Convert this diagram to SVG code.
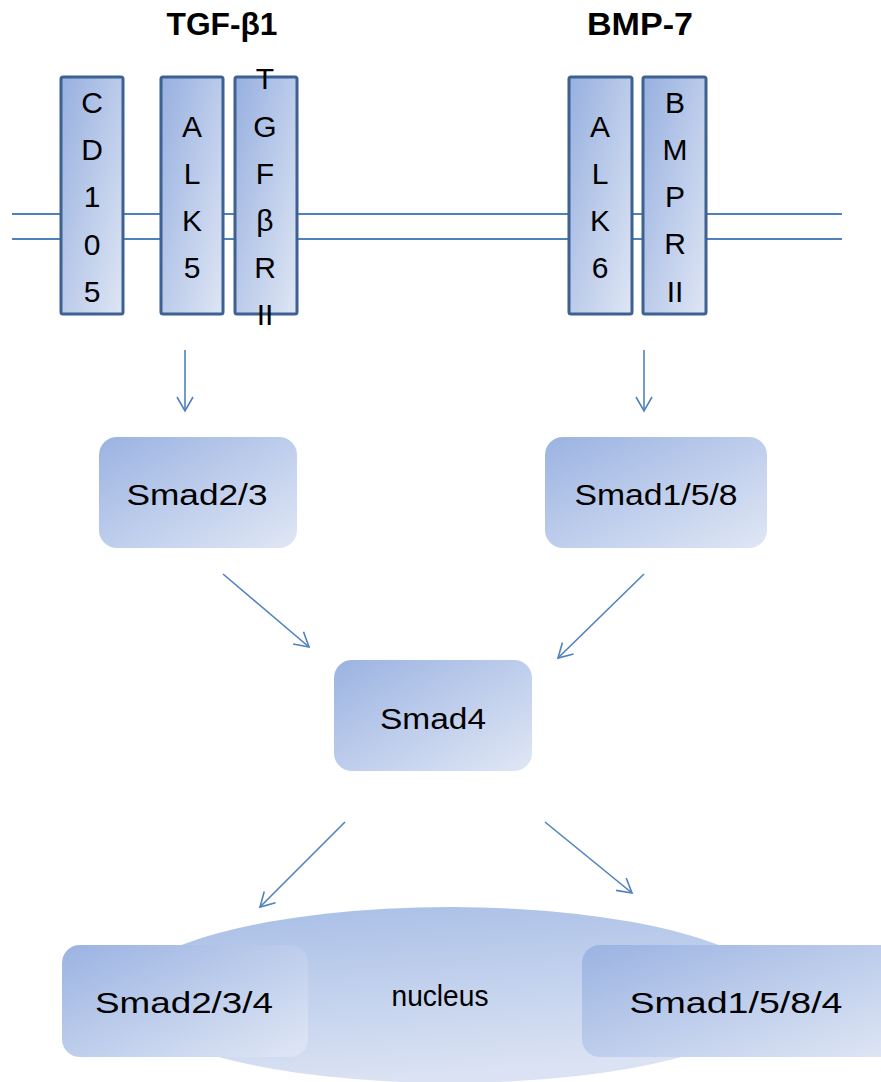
<svg xmlns="http://www.w3.org/2000/svg" width="881" height="1082" viewBox="0 0 881 1082">
<defs>
<linearGradient id="gBox" x1="0" y1="0" x2="1" y2="1">
<stop offset="0" stop-color="#9bb3e2"/>
<stop offset="1" stop-color="#e0e7f5"/>
</linearGradient>
<linearGradient id="gRec" x1="0" y1="0" x2="1" y2="1">
<stop offset="0" stop-color="#97b0e0"/>
<stop offset="1" stop-color="#dfe6f4"/>
</linearGradient>
<linearGradient id="gNuc" x1="0" y1="0" x2="0.3" y2="1">
<stop offset="0" stop-color="#a6bde6"/>
<stop offset="1" stop-color="#dae2f3"/>
</linearGradient>
<marker id="arr" viewBox="-16 -10 18 20" refX="0" refY="0" markerWidth="18" markerHeight="20" markerUnits="userSpaceOnUse" orient="auto">
<path d="M-14,-8 L0,0 L-14,8" fill="none" stroke="#4f81bd" stroke-width="1.6"/>
</marker>
</defs>
<style>
.rec{fill:url(#gRec);stroke:#3d6192;stroke-width:3}
.box{fill:url(#gBox)}
.lt{font-family:"Liberation Sans",Arial,sans-serif;font-size:30px;fill:#000;text-anchor:middle}
.ttl{font-family:"Liberation Sans",Arial,sans-serif;font-size:31px;font-weight:bold;fill:#000;text-anchor:middle}
.mem{stroke:#4f81bd;stroke-width:2;fill:none}
.con{stroke:#4f81bd;stroke-width:1.6;fill:none;marker-end:url(#arr)}
</style>
<rect width="881" height="1082" fill="#fff"/>
<g id="titles">
<text class="ttl" x="222" y="35" textLength="111" lengthAdjust="spacingAndGlyphs">TGF-β1</text>
<text class="ttl" x="640" y="35" textLength="106" lengthAdjust="spacingAndGlyphs">BMP-7</text>
</g>
<g id="membrane">
<line class="mem" x1="12" y1="214" x2="842" y2="214"/>
<line class="mem" x1="12" y1="239" x2="842" y2="239"/>
</g>
<g id="cd105">
<rect class="rec" x="61" y="77" width="62" height="237" rx="2"/>
<text class="lt" x="92" y="113">C</text>
<text class="lt" x="92" y="160">D</text>
<text class="lt" x="92" y="207">1</text>
<text class="lt" x="92" y="255">0</text>
<text class="lt" x="92" y="302">5</text>
</g>
<g id="alk5">
<rect class="rec" x="161" y="77" width="62" height="237" rx="2"/>
<text class="lt" x="192" y="137">A</text>
<text class="lt" x="192" y="184">L</text>
<text class="lt" x="192" y="231">K</text>
<text class="lt" x="192" y="278">5</text>
</g>
<g id="tgfbrii">
<rect class="rec" x="235" y="77" width="62" height="237" rx="2"/>
<text class="lt" x="265" y="89">T</text>
<text class="lt" x="265" y="137">G</text>
<text class="lt" x="265" y="184">F</text>
<text class="lt" x="265" y="231">β</text>
<text class="lt" x="265" y="278">R</text>
<text class="lt" x="265" y="325">II</text>
</g>
<g id="alk6">
<rect class="rec" x="569" y="77" width="63" height="237" rx="2"/>
<text class="lt" x="600" y="137">A</text>
<text class="lt" x="600" y="184">L</text>
<text class="lt" x="600" y="231">K</text>
<text class="lt" x="600" y="278">6</text>
</g>
<g id="bmprii">
<rect class="rec" x="643" y="77" width="63" height="237" rx="2"/>
<text class="lt" x="675" y="113">B</text>
<text class="lt" x="675" y="160">M</text>
<text class="lt" x="675" y="207">P</text>
<text class="lt" x="675" y="254">R</text>
<text class="lt" x="675" y="302">II</text>
</g>
<g id="smad23">
<rect class="box" x="99" y="437" width="198" height="111" rx="18"/>
<text class="lt" x="197" y="505" textLength="141" lengthAdjust="spacingAndGlyphs">Smad2/3</text>
</g>
<g id="smad158">
<rect class="box" x="545" y="437" width="222" height="111" rx="18"/>
<text class="lt" x="656" y="505" textLength="163" lengthAdjust="spacingAndGlyphs">Smad1/5/8</text>
</g>
<g id="smad4">
<rect class="box" x="334" y="660" width="198" height="111" rx="18"/>
<text class="lt" x="433" y="729" textLength="106" lengthAdjust="spacingAndGlyphs">Smad4</text>
</g>
<g id="nucleus">
<ellipse cx="450" cy="995" rx="326" ry="88" fill="url(#gNuc)"/>
<text class="lt" x="440" y="1006" textLength="97" lengthAdjust="spacingAndGlyphs">nucleus</text>
</g>
<g id="smad234">
<rect class="box" x="62" y="945" width="246" height="112" rx="18"/>
<text class="lt" x="184" y="1013" textLength="178" lengthAdjust="spacingAndGlyphs">Smad2/3/4</text>
</g>
<g id="smad1584">
<rect class="box" x="582" y="945" width="320" height="112" rx="18"/>
<text class="lt" x="736" y="1013" textLength="213" lengthAdjust="spacingAndGlyphs">Smad1/5/8/4</text>
</g>
<g id="connectors">
<line class="con" x1="185" y1="350" x2="185" y2="411"/>
<line class="con" x1="644" y1="350" x2="644" y2="411"/>
<line class="con" x1="223" y1="574" x2="309" y2="647"/>
<line class="con" x1="644" y1="574" x2="558" y2="658"/>
<line class="con" x1="345" y1="822" x2="260" y2="907"/>
<line class="con" x1="545" y1="822" x2="632" y2="893"/>
</g>
</svg>
